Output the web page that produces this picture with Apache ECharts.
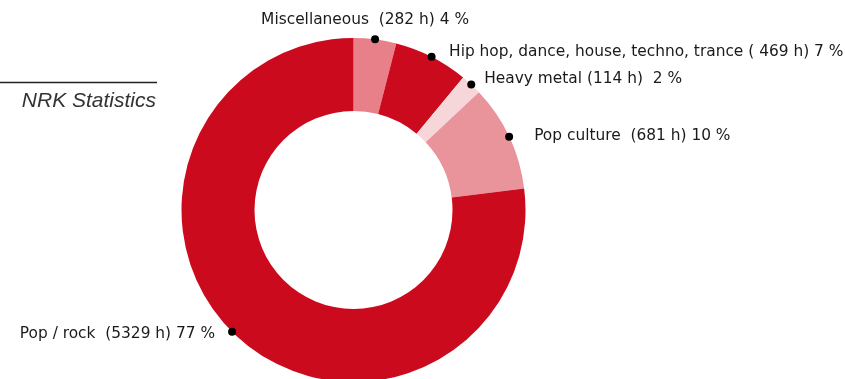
<!DOCTYPE html>
<html>
<head>
<meta charset="utf-8">
<style>
  html, body { margin: 0; padding: 0; background: #ffffff; }
  #chart { width: 845px; height: 379px; }
</style>
<script src="https://cdn.jsdelivr.net/npm/echarts@6/dist/echarts.min.js"></script>
</head>
<body>
<div id="chart"></div>
<script>
// Listening hours by genre, clockwise from 12 o'clock
const categories = ['Miscellaneous', 'Hip hop, dance, house, techno, trance', 'Heavy metal', 'Pop culture', 'Pop / rock'];
const hours = [282, 469, 114, 681, 5329];
const percents = [4, 7, 2, 10, 77];
const labelTexts = [
  'Miscellaneous  (282 h) 4 %',
  'Hip hop, dance, house, techno, trance ( 469 h) 7 %',
  'Heavy metal (114 h)  2 %',
  'Pop culture  (681 h) 10 %',
  'Pop / rock  (5329 h) 77 %'
];
const sliceColors = ['#e8808a', '#cc0a1e', '#f7d6da', '#e9939a', '#cc0a1e'];

// Label placement relative to each slice's callout dot: [dx, dy, align]
const labelOffsets = [
  [-10, -19.5, 'center'],
  [17.5, -5, 'left'],
  [13, -5.3, 'left'],
  [25, -1, 'left'],
  [-17, 1.7, 'right']
];
// Angular nudge (degrees, clockwise) of a callout dot away from its slice midpoint
const dotNudgeDeg = [0, 0, 0, 0, 3.5];

const FONT = '15.4px "DejaVu Sans", sans-serif';
const chart = echarts.init(document.getElementById('chart'), null, { renderer: 'canvas' });

const CX = 353.5, CY = 210, R0 = 99, R1 = 172;

chart.setOption({
  animation: false,
  backgroundColor: '#ffffff',
  series: [{
    type: 'pie',
    center: [CX, CY],
    radius: [R0, R1],
    startAngle: 90,
    clockwise: true,
    silent: true,
    label: { show: false },
    labelLine: { show: false },
    itemStyle: { borderWidth: 0 },
    data: categories.map((name, i) => ({
      name: name,
      value: percents[i],
      hours: hours[i],
      itemStyle: { color: sliceColors[i] }
    }))
  }]
});

// Callout dot on the outer arc of each slice
function sliceAnchor(i) {
  const nudge = dotNudgeDeg[i] * Math.PI / 180;
  let lay = null;
  try {
    lay = chart.getModel().getSeriesByIndex(0).getData().getItemLayout(i);
  } catch (e) { lay = null; }
  if (lay && isFinite(lay.startAngle)) {
    const mid = (lay.startAngle + lay.endAngle) / 2 + nudge;
    return [lay.cx + lay.r * Math.cos(mid), lay.cy + lay.r * Math.sin(mid)];
  }
  const total = percents.reduce((a, b) => a + b, 0);
  let before = 0;
  for (let k = 0; k < i; k++) before += percents[k];
  const a = (-90 + (before + percents[i] / 2) / total * 360) * Math.PI / 180 + nudge;
  return [CX + R1 * Math.cos(a), CY + R1 * Math.sin(a)];
}

const graphics = [
  {
    type: 'line',
    shape: { x1: 0, y1: 82.5, x2: 157, y2: 82.5 },
    style: { stroke: '#222222', lineWidth: 1.5 },
    silent: true
  },
  {
    type: 'text',
    x: 156, y: 101.5,
    style: {
      text: 'NRK Statistics',
      font: 'italic 21px "Liberation Sans", Arial, sans-serif',
      fill: '#333333',
      align: 'right',
      verticalAlign: 'middle'
    },
    silent: true
  }
];

categories.forEach((name, i) => {
  const p = sliceAnchor(i);
  const off = labelOffsets[i];
  graphics.push({
    type: 'circle',
    shape: { cx: p[0], cy: p[1], r: 4 },
    style: { fill: '#000000' },
    z: 10,
    silent: true
  });
  graphics.push({
    type: 'text',
    x: p[0] + off[0],
    y: p[1] + off[1],
    style: {
      text: labelTexts[i],
      font: FONT,
      fill: '#1a1a1a',
      align: off[2],
      verticalAlign: 'middle'
    },
    z: 10,
    silent: true
  });
});

chart.setOption({ graphic: graphics });
</script>
</body>
</html>
